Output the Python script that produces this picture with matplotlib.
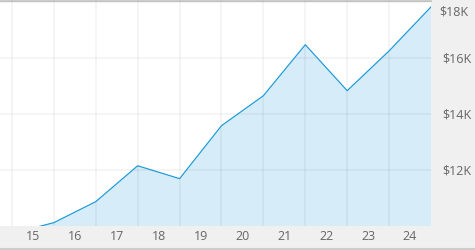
import matplotlib.pyplot as plt
from matplotlib.ticker import FixedLocator
from matplotlib.transforms import ScaledTranslation, blended_transform_factory

plt.rcParams['font.family'] = ['Open Sans', 'DejaVu Sans']

x_pos = [14.5, 15.5, 16.5, 17.5, 18.5, 19.5, 20.5, 21.5, 22.5, 23.5, 24.5]
values = [9730, 10120, 10870, 12150, 11690, 13580, 14650, 16470, 14830, 16250, 17820]
tick_pos = [15, 16, 17, 18, 19, 20, 21, 22, 23, 24]
tick_labels = ['15', '16', '17', '18', '19', '20', '21', '22', '23', '24']
y_ticks = [12000, 14000, 16000, 18000]
y_labels = ['$12K', '$14K', '$16K', '$18K']

fig = plt.figure(figsize=(4.75, 2.5), dpi=100, facecolor='#f0f0f0')
ax = fig.add_axes([0, 24 / 250, 431 / 475, 225 / 250])
ax.set_facecolor('white')

ax.fill_between(x_pos, values, 0, color='#d6ecf8', lw=0, zorder=1)
ax.plot(x_pos, values, color='#1b9ad8', lw=0.85, zorder=3)

ax.set_xlim(14.5 - 12 / 42, 24.5)
ax.set_ylim(10000, 18030)

ax.set_xticks(tick_pos)
ax.set_xticklabels(tick_labels)
ax.xaxis.set_minor_locator(FixedLocator([p - 0.5 for p in tick_pos]))
ax.set_yticks(y_ticks)
# top label is drawn separately so it can sit inside the figure
ax.set_yticklabels(y_labels[:-1] + [''])
ax.yaxis.tick_right()

trans = blended_transform_factory(ax.transAxes, ax.transData) + \
    ScaledTranslation(8 / 100, -4 / 100, fig.dpi_scale_trans)
ax.text(1, y_ticks[-1], y_labels[-1], transform=trans, ha='left', va='top',
        fontsize=9, color='#666666', clip_on=False)

ax.grid(False)
ax.xaxis.grid(True, which='minor', color='black', alpha=0.04, lw=1.5, zorder=2)
ax.yaxis.grid(True, which='major', color='black', alpha=0.04, lw=1.5, zorder=2)
ax.set_axisbelow(False)

ax.tick_params(axis='both', which='both', length=0, labelsize=9, labelcolor='#666666')
ax.tick_params(axis='x', pad=3)
ax.tick_params(axis='y', pad=8)
for lbl in ax.get_yticklabels():
    lbl.set_horizontalalignment('left')

for side in ['left', 'right', 'bottom']:
    ax.spines[side].set_visible(False)
ax.spines['top'].set_color('#cccccc')
ax.spines['top'].set_linewidth(1.5)

fig.add_artist(plt.Line2D([0, 1], [1 / 250, 1 / 250], color='#cccccc', lw=1.5))

fig.savefig('out.png', dpi=100, facecolor=fig.get_facecolor())
